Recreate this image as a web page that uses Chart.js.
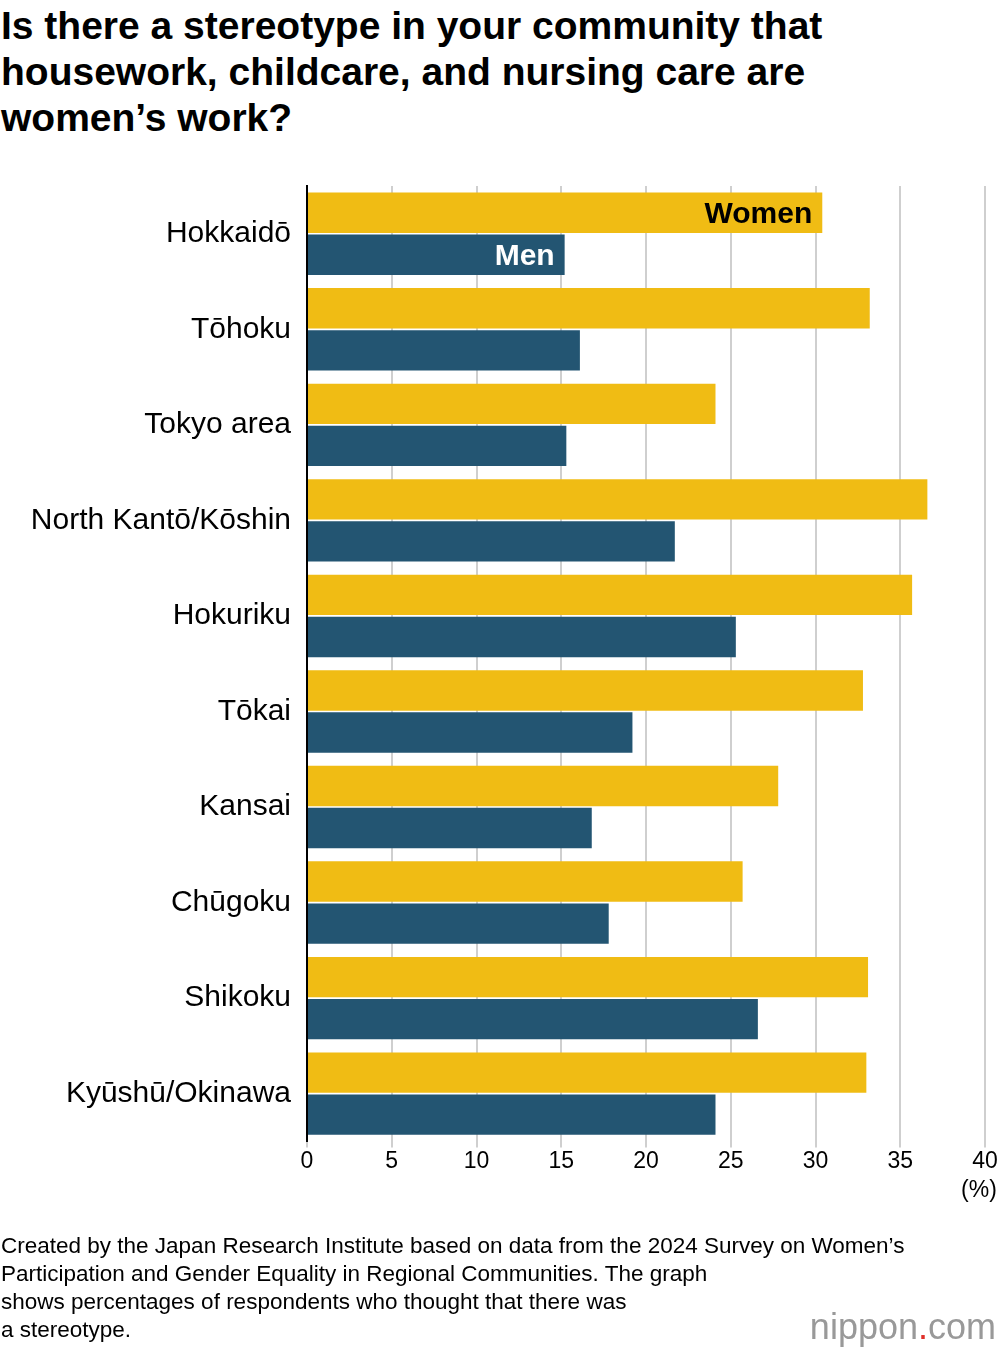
<!DOCTYPE html>
<html><head><meta charset="utf-8">
<script src="https://cdn.jsdelivr.net/npm/chart.js@4"></script>
<style>
body{margin:0;background:#fff;font-family:"Liberation Sans",Arial,sans-serif;width:1000px;height:1350px;position:relative;overflow:hidden}
#title{position:absolute;left:1px;top:3px;font-size:39px;font-weight:bold;line-height:46px;color:#000}
#wrap{position:absolute;left:0;top:160px;width:1000px;height:1075px}
#foot{position:absolute;left:1px;top:1232px;font-size:22.5px;line-height:28px;color:#000}
#logo{position:absolute;right:4px;top:1306px;font-size:36px;color:#999}
#logo span{color:#e0302a}
</style></head><body>
<div id="title">Is there a stereotype in your community that<br>housework, childcare, and nursing care are<br>women’s work?</div>
<div id="wrap"><canvas id="c"></canvas></div>
<div id="foot">Created by the Japan Research Institute based on data from the 2024 Survey on Women’s<br>Participation and Gender Equality in Regional Communities. The graph<br>shows percentages of respondents who thought that there was<br>a stereotype.</div>
<div id="logo">nippon<span>.</span>com</div>
<script>
const categories=["Hokkaidō","Tōhoku","Tokyo area","North Kantō/Kōshin","Hokuriku","Tōkai","Kansai","Chūgoku","Shikoku","Kyūshū/Okinawa"];
const women=[30.4,33.2,24.1,36.6,35.7,32.8,27.8,25.7,33.1,33.0];
const men=[15.2,16.1,15.3,21.7,25.3,19.2,16.8,17.8,26.6,24.1];
const xTicks=[0,5,10,15,20,25,30,35,40];
const seriesNames=["Women","Men"];
const F='"Liberation Sans",Arial,sans-serif';
const labelPlugin={id:'lbl',afterDatasetsDraw(ch){
  const ctx=ch.ctx;ctx.save();ctx.font='bold 30px '+F;ctx.textAlign='right';ctx.textBaseline='middle';
  ch.data.datasets.forEach((d,i)=>{const el=ch.getDatasetMeta(i).data[0];ctx.fillStyle=i===0?'#000':'#fff';ctx.fillText(d.label,el.x-10,el.y+2);});
  const xs=ch.scales.x;ctx.font='23px '+F;ctx.fillStyle='#000';ctx.textAlign='center';ctx.textBaseline='top';
  ctx.fillText('(%)',xs.getPixelForValue(40)-6,ch.chartArea.bottom+38);
  ctx.restore();}};
new Chart(document.getElementById('c'),{type:'bar',
data:{labels:categories,datasets:[
 {label:seriesNames[0],data:women,backgroundColor:'#F0BC14'},
 {label:seriesNames[1],data:men,backgroundColor:'#235572'}]},
options:{indexAxis:'y',responsive:true,maintainAspectRatio:false,animation:false,
 layout:{padding:{left:0,right:15,top:15,bottom:60}},
 datasets:{bar:{categoryPercentage:0.88,barPercentage:0.96}},
 plugins:{legend:{display:false},tooltip:{enabled:false}},
 scales:{
  x:{min:0,max:40,afterBuildTicks(a){a.ticks=xTicks.map(v=>({value:v}));},
     grid:{color:'#cfcfcf',lineWidth:2,drawTicks:true,tickLength:6},border:{display:false},
     ticks:{color:'#000',font:{size:23,family:F},padding:0}},
  y:{grid:{display:false},border:{color:'#000',width:2},
     afterFit(a){a.width=307;},
     ticks:{color:'#000',font:{size:30,family:F},padding:8}}
 }},
plugins:[labelPlugin]});
</script></body></html>
